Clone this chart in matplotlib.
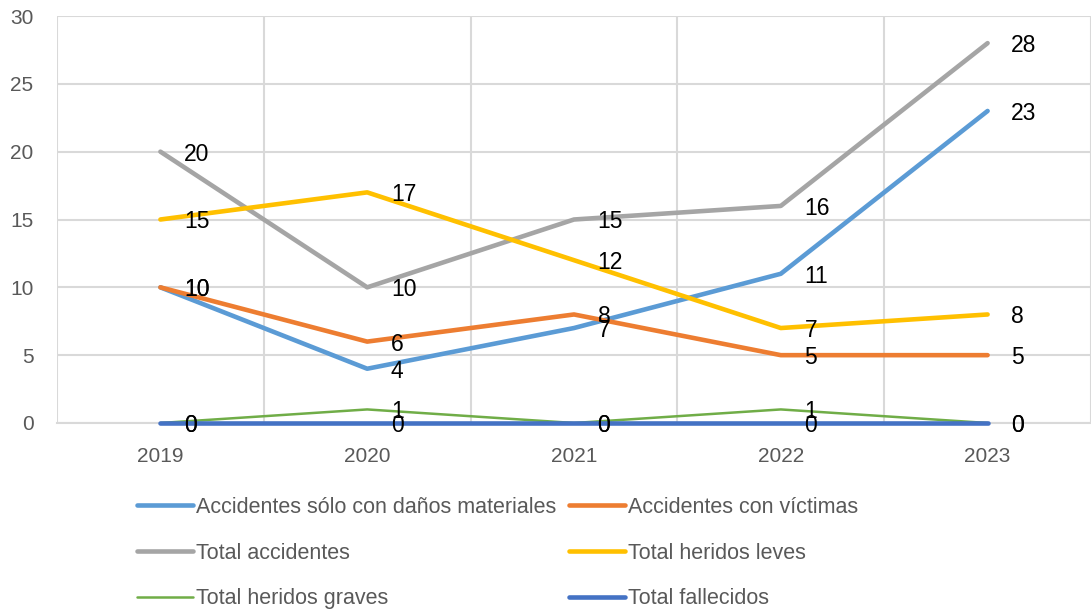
import matplotlib.pyplot as plt
from matplotlib.lines import Line2D

plt.rcParams['font.family'] = ['Liberation Sans', 'DejaVu Sans']

# Data
years = ['2019', '2020', '2021', '2022', '2023']
solo_materiales = [10, 4, 7, 11, 23]
con_victimas = [10, 6, 8, 5, 5]
total_accidentes = [20, 10, 15, 16, 28]
heridos_leves = [15, 17, 12, 7, 8]
heridos_graves = [0, 1, 0, 1, 0]
fallecidos = [0, 0, 0, 0, 0]

series = [
    ('Accidentes sólo con daños materiales', solo_materiales, '#5B9BD5', 3.3),
    ('Accidentes con víctimas', con_victimas, '#ED7D31', 3.3),
    ('Total accidentes', total_accidentes, '#A5A5A5', 3.3),
    ('Total heridos leves', heridos_leves, '#FFC000', 3.3),
    ('Total heridos graves', heridos_graves, '#70AD47', 1.8),
    ('Total fallecidos', fallecidos, '#4472C4', 3.3),
]

fig = plt.figure(figsize=(10.91, 6.12), dpi=100)
ax = fig.add_axes([57 / 1091, 1 - 423 / 612, 1 - 57 / 1091, (423 - 16) / 612])

x = list(range(len(years)))
handles = {}
for name, vals, color, lw in series:
    ax.plot(x, vals, color=color, lw=lw, solid_capstyle='round',
            solid_joinstyle='round', zorder=3, clip_on=False)
    handles[name] = Line2D([], [], color=color, lw=lw, solid_capstyle='round')
    for xi, v in zip(x, vals):
        ax.annotate(str(v), (xi, v), xytext=(17, 0), textcoords='offset points',
                    ha='left', va='center_baseline', fontsize=16.5, color='black', zorder=4)

ax.set_xlim(-0.5, 4.44)
ax.set_ylim(0, 30)
ax.set_yticks(range(0, 31, 5))
ax.set_xticks(x)
ax.set_xticklabels(years)
ax.set_xticks([i - 0.5 for i in range(len(years) + 1)], minor=True)
ax.grid(True, axis='y', color='#D9D9D9', lw=1.5, zorder=0)
ax.grid(True, axis='x', which='minor', color='#D9D9D9', lw=1.5, zorder=0)
ax.tick_params(axis='both', which='both', length=0, labelsize=15, labelcolor='#595959')
ax.tick_params(axis='y', pad=17)
ax.tick_params(axis='x', pad=17)
for s in ['top', 'right', 'left']:
    ax.spines[s].set_visible(False)
ax.spines['bottom'].set_color('#D9D9D9')
ax.spines['bottom'].set_linewidth(1.5)

col1 = ['Accidentes sólo con daños materiales', 'Total accidentes', 'Total heridos graves']
col2 = ['Accidentes con víctimas', 'Total heridos leves', 'Total fallecidos']
for names, xpos in [(col1, 137 / 1091), (col2, 569 / 1091)]:
    fig.legend([handles[n] for n in names], names, loc='upper left',
               bbox_to_anchor=(xpos, 1 - 497 / 612), frameon=False,
               borderpad=0, borderaxespad=0, handlelength=2.6,
               handletextpad=0.15, labelspacing=1.14, fontsize=15.5,
               labelcolor='#595959')

fig.savefig('out.png', dpi=100)
